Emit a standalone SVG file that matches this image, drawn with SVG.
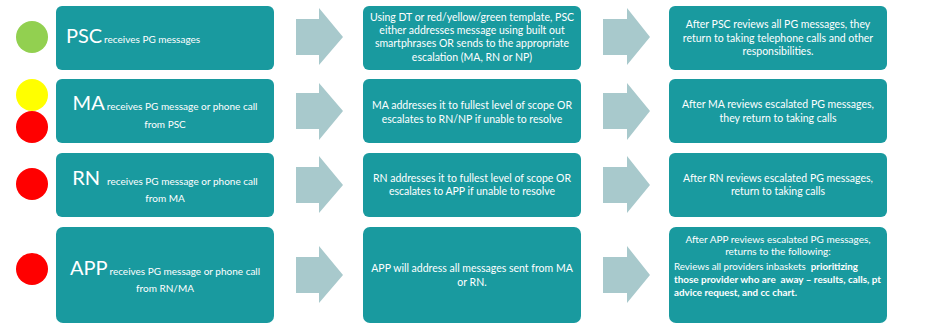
<svg xmlns="http://www.w3.org/2000/svg" width="929" height="329" viewBox="0 0 929 329">
<style>
.box{fill:#199a9f}
.arr{fill:#a8c9cc}
text{font-family:Lato,"Open Sans","Liberation Sans",sans-serif;fill:#ffffff}
.c{text-anchor:middle}
.s{font-size:10px}
.m{font-size:10.5px}
.big{font-size:20px}
.b{font-weight:bold}
</style>
<rect width="929" height="329" fill="#ffffff"/>
<g id="lights">
<circle cx="32" cy="37" r="16" fill="#92d050"/>
<circle cx="32" cy="95" r="16" fill="#ffff00"/>
<circle cx="32" cy="127" r="16" fill="#ff0000"/>
<circle cx="32" cy="184" r="16" fill="#ff0000"/>
<circle cx="32" cy="269" r="16" fill="#ff0000"/>
</g>
<g id="connectors">
<path class="arr" d="M296 19H319V8L343 37L319 65V55H296Z"/>
<path class="arr" d="M603 19H627V8L650 37L627 65V55H603Z"/>
<path class="arr" d="M296 93H319V83L343 111L319 140V129H296Z"/>
<path class="arr" d="M603 93H627V83L650 111L627 140V129H603Z"/>
<path class="arr" d="M296 167H319V156L343 185L319 213V203H296Z"/>
<path class="arr" d="M603 167H627V156L650 185L627 213V203H603Z"/>
<path class="arr" d="M296 257H319V246L343 275L319 303V293H296Z"/>
<path class="arr" d="M603 257H627V246L650 275L627 303V293H603Z"/>
</g>
<g id="psc-receive">
<rect class="box" x="56" y="6" width="218" height="64" rx="6"/>
<text class="c" x="133" y="43"><tspan class="big">PSC</tspan><tspan class="s" dx="2">receives PG messages</tspan></text>
</g>
<g id="ma-receive">
<rect class="box" x="56" y="79" width="218" height="64" rx="6"/>
<text class="c" x="165" y="110"><tspan class="big">MA</tspan><tspan class="s" dx="2">receives PG message or phone call</tspan></text>
<text class="c s" x="165" y="128">from PSC</text>
</g>
<g id="rn-receive">
<rect class="box" x="56" y="153" width="218" height="64" rx="6"/>
<text class="c" x="165" y="185"><tspan class="big">RN</tspan><tspan class="s" dx="7">receives PG message or phone call</tspan></text>
<text class="c s" x="165" y="202">from MA</text>
</g>
<g id="app-receive">
<rect class="box" x="56" y="227" width="218" height="96" rx="7"/>
<text class="c" x="165" y="275"><tspan class="big">APP</tspan><tspan class="s" dx="2">receives PG message or phone call</tspan></text>
<text class="c s" x="165" y="292">from RN/MA</text>
</g>
<g id="psc-action">
<rect class="box" x="363" y="6" width="218" height="64" rx="6"/>
<text class="c m" x="472" y="21">Using DT or red/yellow/green template, PSC</text>
<text class="c m" x="472" y="34">either addresses message using built out</text>
<text class="c m" x="472" y="47">smartphrases OR sends to the appropriate</text>
<text class="c m" x="472" y="61">escalation (MA, RN or NP)</text>
</g>
<g id="ma-action">
<rect class="box" x="363" y="79" width="218" height="64" rx="6"/>
<text class="c m" x="472" y="109">MA addresses it to fullest level of scope OR</text>
<text class="c m" x="472" y="123">escalates to RN/NP if unable to resolve</text>
</g>
<g id="rn-action">
<rect class="box" x="363" y="153" width="218" height="64" rx="6"/>
<text class="c m" x="472" y="182">RN addresses it to fullest level of scope OR</text>
<text class="c m" x="472" y="195">escalates to APP if unable to resolve</text>
</g>
<g id="app-action">
<rect class="box" x="363" y="227" width="218" height="96" rx="7"/>
<text class="c m" x="472" y="272">APP will address all messages sent from MA</text>
<text class="c m" x="472" y="286">or RN.</text>
</g>
<g id="psc-after">
<rect class="box" x="669" y="6" width="218" height="64" rx="6"/>
<text class="c m" x="778" y="28">After PSC reviews all PG messages, they</text>
<text class="c m" x="778" y="42">return to taking telephone calls and other</text>
<text class="c m" x="778" y="55">responsibilities.</text>
</g>
<g id="ma-after">
<rect class="box" x="669" y="79" width="218" height="64" rx="6"/>
<text class="c m" x="778" y="108">After MA reviews escalated PG messages,</text>
<text class="c m" x="778" y="122">they return to taking calls</text>
</g>
<g id="rn-after">
<rect class="box" x="669" y="153" width="218" height="64" rx="6"/>
<text class="c m" x="778" y="182">After RN reviews escalated PG messages,</text>
<text class="c m" x="778" y="195">return to taking calls</text>
</g>
<g id="app-after">
<rect class="box" x="669" y="227" width="218" height="96" rx="7"/>
<text class="c s" x="778" y="243">After APP reviews escalated PG messages,</text>
<text class="c s" x="778" y="255">returns to the following:</text>
<text class="s" x="674" y="270" xml:space="preserve" textLength="184" lengthAdjust="spacingAndGlyphs">Reviews all providers inbaskets  <tspan class="b">prioritizing</tspan></text>
<text class="s b" x="674" y="283" xml:space="preserve" textLength="207" lengthAdjust="spacingAndGlyphs">those provider who are  away – results, calls, pt</text>
<text class="s b" x="674" y="296" textLength="123" lengthAdjust="spacingAndGlyphs">advice request, and cc chart.</text>
</g>
</svg>
